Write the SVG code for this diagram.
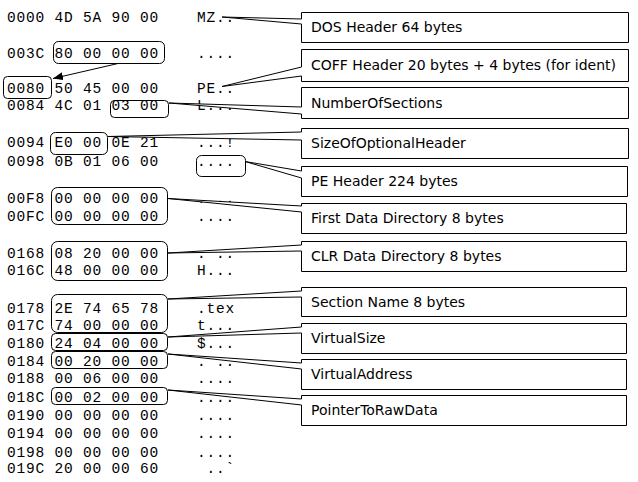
<svg xmlns="http://www.w3.org/2000/svg" width="638" height="482" viewBox="0 0 638 482">
<style>
.hex{font-family:"Liberation Mono","Courier New",monospace;font-size:14.5px;letter-spacing:0.8px;fill:#000}
.lbl{font-family:"DejaVu Sans",Verdana,sans-serif;font-size:14px;fill:#000}
.co{fill:#fff;stroke:#000;stroke-width:1}
.rb{fill:none;stroke:#000;stroke-width:1}
.ln{fill:none;stroke:#000;stroke-width:1}
</style>
<defs>
<marker id="ah" markerWidth="10" markerHeight="8" refX="10" refY="4" orient="auto" markerUnits="userSpaceOnUse">
<path d="M0,0 L10,4 L0,8 Z" fill="#000"/>
</marker>
</defs>
<rect width="638" height="482" fill="#fff"/>
<g id="hexdump">
<text class="hex" x="7" y="21.7">0000 4D 5A 90 00</text><text class="hex" x="197" y="21.7">MZ..</text>
<text class="hex" x="7" y="58">003C 80 00 00 00</text><text class="hex" x="197" y="58">....</text>
<text class="hex" x="7" y="93">0080 50 45 00 00</text><text class="hex" x="197" y="93">PE..</text>
<text class="hex" x="7" y="110">0084 4C 01 03 00</text><text class="hex" x="197" y="110">L...</text>
<text class="hex" x="7" y="147">0094 E0 00 0E 21</text><text class="hex" x="197" y="147">...!</text>
<text class="hex" x="7" y="166">0098 0B 01 06 00</text><text class="hex" x="197" y="166">....</text>
<text class="hex" x="7" y="202.7">00F8 00 00 00 00</text><text class="hex" x="197" y="202.7">....</text>
<text class="hex" x="7" y="220.7">00FC 00 00 00 00</text><text class="hex" x="197" y="220.7">....</text>
<text class="hex" x="7" y="257.5">0168 08 20 00 00</text><text class="hex" x="197" y="257.5">.</text><text class="hex" x="216" y="257.5">..</text>
<text class="hex" x="7" y="275">016C 48 00 00 00</text><text class="hex" x="197" y="275">H...</text>
<text class="hex" x="7" y="312.7">0178 2E 74 65 78</text><text class="hex" x="197" y="312.7">.tex</text>
<text class="hex" x="7" y="330">017C 74 00 00 00</text><text class="hex" x="197" y="330">t...</text>
<text class="hex" x="7" y="347.7">0180 24 04 00 00</text><text class="hex" x="197" y="347.7">$...</text>
<text class="hex" x="7" y="365.7">0184 00 20 00 00</text><text class="hex" x="197" y="365.7">.</text><text class="hex" x="216" y="365.7">..</text>
<text class="hex" x="7" y="383.3">0188 00 06 00 00</text><text class="hex" x="197" y="383.3">....</text>
<text class="hex" x="7" y="401.7">018C 00 02 00 00</text><text class="hex" x="197" y="401.7">....</text>
<text class="hex" x="7" y="420">0190 00 00 00 00</text><text class="hex" x="197" y="420">....</text>
<text class="hex" x="7" y="437.7">0194 00 00 00 00</text><text class="hex" x="197" y="437.7">....</text>
<text class="hex" x="7" y="456.7">0198 00 00 00 00</text><text class="hex" x="197" y="456.7">....</text>
<text class="hex" x="7" y="473.3">019C 20 00 00 60</text><text class="hex" x="206.5" y="473.3">..`</text>
</g>
<g id="highlights">
<rect class="rb" x="53.5" y="41.5" width="111" height="22" rx="5"/>
<rect class="rb" x="3.5" y="76.5" width="48" height="22" rx="4"/>
<rect class="rb" x="110.5" y="100.5" width="58" height="17" rx="4"/>
<rect class="rb" x="50.5" y="132.5" width="57" height="22" rx="5"/>
<rect class="rb" x="196.5" y="155.5" width="49" height="21" rx="5"/>
<rect class="rb" x="51.5" y="187.5" width="116" height="37" rx="6"/>
<rect class="rb" x="51.5" y="241.5" width="116" height="39" rx="6"/>
<rect class="rb" x="51.5" y="294.5" width="116" height="38" rx="6"/>
<rect class="rb" x="51.5" y="333.5" width="116" height="17" rx="4"/>
<rect class="rb" x="51.5" y="351.5" width="116" height="17" rx="4"/>
<rect class="rb" x="51.5" y="387.5" width="116" height="17" rx="4"/>
</g>
<g id="connectors">
<line class="ln" x1="118" y1="63.5" x2="53" y2="78.5" marker-end="url(#ah)"/>
</g>
<g id="dos-header">
<path class="co" d="M222,17 L301.5,24 L301.5,42.5 L628.5,42.5 L628.5,12.5 L301.5,12.5 L301.5,19 Z"/>
<text class="lbl" x="311" y="32">DOS Header 64 bytes</text>
</g>
<g id="coff-header">
<path class="co" d="M222,86.5 L301.5,76 L301.5,81.5 L628.5,81.5 L628.5,49.5 L301.5,49.5 L301.5,67 Z"/>
<text class="lbl" x="311" y="70">COFF Header 20 bytes + 4 bytes (for ident)</text>
</g>
<g id="number-of-sections">
<path class="co" d="M169,103 L301.5,114 L301.5,118.5 L628.5,118.5 L628.5,87.5 L301.5,87.5 L301.5,107 Z"/>
<text class="lbl" x="311" y="108">NumberOfSections</text>
</g>
<g id="size-of-optional-header">
<path class="co" d="M108,136.5 L301.5,140 L301.5,158.5 L628.5,158.5 L628.5,128.5 L301.5,128.5 L301.5,132 Z"/>
<text class="lbl" x="311" y="148">SizeOfOptionalHeader</text>
</g>
<g id="pe-header">
<path class="co" d="M245,161.5 L301.5,178 L301.5,196.5 L627.5,196.5 L627.5,166.5 L301.5,166.5 L301.5,171 Z"/>
<text class="lbl" x="311" y="186">PE Header 224 bytes</text>
</g>
<g id="first-data-directory">
<path class="co" d="M168,198.5 L301.5,212 L301.5,233.5 L626.5,233.5 L626.5,203.5 L301.5,203.5 L301.5,206 Z"/>
<text class="lbl" x="311" y="223">First Data Directory 8 bytes</text>
</g>
<g id="clr-data-directory">
<path class="co" d="M168,253 L301.5,251 L301.5,271.5 L626.5,271.5 L626.5,241.5 L301.5,241.5 L301.5,245 Z"/>
<text class="lbl" x="311" y="261">CLR Data Directory 8 bytes</text>
</g>
<g id="section-name">
<path class="co" d="M168,299 L301.5,297 L301.5,316.5 L626.5,316.5 L626.5,287.5 L301.5,287.5 L301.5,291 Z"/>
<text class="lbl" x="311" y="306.5">Section Name 8 bytes</text>
</g>
<g id="virtual-size">
<path class="co" d="M168,337 L301.5,333 L301.5,353.5 L626.5,353.5 L626.5,323.5 L301.5,323.5 L301.5,327 Z"/>
<text class="lbl" x="311" y="343">VirtualSize</text>
</g>
<g id="virtual-address">
<path class="co" d="M168,354 L301.5,369 L301.5,389.5 L626.5,389.5 L626.5,359.5 L301.5,359.5 L301.5,363 Z"/>
<text class="lbl" x="311" y="379">VirtualAddress</text>
</g>
<g id="pointer-to-raw-data">
<path class="co" d="M168,390 L301.5,405 L301.5,425.5 L626.5,425.5 L626.5,395.5 L301.5,395.5 L301.5,399 Z"/>
<text class="lbl" x="311" y="415">PointerToRawData</text>
</g>
</svg>
